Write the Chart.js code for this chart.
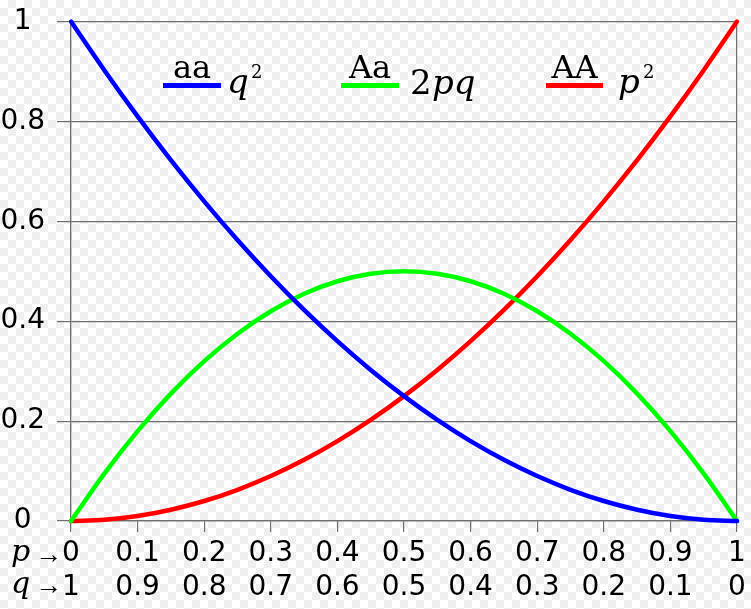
<!DOCTYPE html>
<html>
  <head>
    <meta charset="UTF-8" />
    <title>Hardy-Weinberg</title>
    <script src="https://cdn.jsdelivr.net/npm/chart.js"></script>
    <style>
      body {
        margin: 0;
        background: repeating-conic-gradient(#efefef 0 25%, #ffffff 0 50%) 0 0 / 16px 16px;
      }
      .wrap {
        width: 751px;
        height: 609px;
        position: relative;
      }
    </style>
  </head>
  <body>
    <div class="wrap"><canvas id="chart"></canvas></div>
    <script>
      // allele frequency p (x axis)
      const pValues = [0, 0.05, 0.1, 0.15, 0.2, 0.25, 0.3, 0.35, 0.4, 0.45, 0.5,
        0.55, 0.6, 0.65, 0.7, 0.75, 0.8, 0.85, 0.9, 0.95, 1];
      // genotype frequencies
      const aa = [1, 0.9025, 0.81, 0.7225, 0.64, 0.5625, 0.49, 0.4225, 0.36, 0.3025, 0.25,
        0.2025, 0.16, 0.1225, 0.09, 0.0625, 0.04, 0.0225, 0.01, 0.0025, 0];
      const Aa = [0, 0.095, 0.18, 0.255, 0.32, 0.375, 0.42, 0.455, 0.48, 0.495, 0.5,
        0.495, 0.48, 0.455, 0.42, 0.375, 0.32, 0.255, 0.18, 0.095, 0];
      const AA = [0, 0.0025, 0.01, 0.0225, 0.04, 0.0625, 0.09, 0.1225, 0.16, 0.2025, 0.25,
        0.3025, 0.36, 0.4225, 0.49, 0.5625, 0.64, 0.7225, 0.81, 0.9025, 1];

      const pLabels = ["0", "0.1", "0.2", "0.3", "0.4", "0.5", "0.6", "0.7", "0.8", "0.9", "1"];
      const qLabels = ["1", "0.9", "0.8", "0.7", "0.6", "0.5", "0.4", "0.3", "0.2", "0.1", "0"];
      const yLabels = ["0", "0.2", "0.4", "0.6", "0.8", "1"];

      const SERIF = "'DejaVu Serif', serif";
      const SANS = "'DejaVu Sans', sans-serif";
      const gridCol = "#6e6e6e";

      function pts(ys) {
        return pValues.map((p, i) => ({ x: p, y: ys[i] }));
      }

      function line(label, ys, color) {
        return {
          label: label,
          data: pts(ys),
          borderColor: color,
          borderWidth: 4.5,
          borderCapStyle: "round",
          borderJoinStyle: "round",
          pointRadius: 0,
          cubicInterpolationMode: "monotone",
          fill: false,
          clip: 4,
        };
      }

      // legend + p/q arrows, drawn on top
      const extras = {
        id: "extras",
        afterDraw(chart) {
          const c = chart.ctx;
          c.save();
          c.fillStyle = "#000";
          c.textBaseline = "alphabetic";

          const items = [
            { x0: 163, x1: 221, name: "aa", color: "#0000ff" },
            { x0: 341, x1: 399, name: "Aa", color: "#00ff00" },
            { x0: 546, x1: 603, name: "AA", color: "#ff0000" },
          ];
          items.forEach((it) => {
            c.strokeStyle = it.color;
            c.lineWidth = 5;
            c.beginPath();
            c.moveTo(it.x0, 85.5);
            c.lineTo(it.x1, 85.5);
            c.stroke();
            c.font = "32px " + SERIF;
            c.textAlign = "center";
            c.fillText(it.name, (it.x0 + it.x1) / 2, 78);
          });

          c.textAlign = "left";
          // q^2
          c.font = "italic 34px " + SERIF;
          c.fillText("q", 227, 93);
          c.font = "18px " + SERIF;
          c.fillText("2", 251, 78);
          // 2pq
          c.font = "34px " + SERIF;
          c.fillText("2", 410, 94);
          c.font = "italic 34px " + SERIF;
          c.fillText("pq", 432, 94);
          // p^2
          c.font = "italic 34px " + SERIF;
          c.fillText("p", 618, 93);
          c.font = "18px " + SERIF;
          c.fillText("2", 643, 78);

          // p -> / q -> in front of the x labels
          c.font = "italic 30px " + SERIF;
          c.fillText("p", 11, 561);
          c.fillText("q", 11, 593);
          c.font = "27px 'Liberation Serif', serif";
          c.fillText("\u2192", 35, 563);
          c.fillText("\u2192", 35, 594);
          c.restore();
        },
      };

      new Chart(document.getElementById("chart"), {
        type: "line",
        data: {
          datasets: [
            line("aa  q²", aa, "#0000ff"),
            line("Aa  2pq", Aa, "#00ff00"),
            line("AA  p²", AA, "#ff0000"),
          ],
        },
        options: {
          responsive: true,
          maintainAspectRatio: false,
          animation: false,
          layout: { padding: { top: 0, right: 14, left: 0, bottom: 0 } },
          plugins: {
            legend: { display: false },
            tooltip: { enabled: false },
          },
          scales: {
            x: {
              type: "linear",
              min: 0,
              max: 1,
              afterFit(scale) {
                scale.height = 88;
              },
              border: { display: true, color: gridCol, width: 1.2 },
              grid: {
                color: (ctx) =>
                  ctx.tick && (ctx.tick.value === 0 || ctx.tick.value === 1)
                    ? gridCol
                    : "rgba(0,0,0,0)",
                tickColor: gridCol,
                tickLength: 11,
                lineWidth: 1.2,
              },
              ticks: {
                stepSize: 0.1,
                autoSkip: false,
                maxRotation: 0,
                padding: 5,
                color: "#000",
                font: { family: SANS, size: 28, lineHeight: 1.2 },
                callback: (v, i) => [pLabels[i], qLabels[i]],
              },
            },
            y: {
              min: 0,
              max: 1,
              afterFit(scale) {
                scale.width = 71;
              },
              border: { display: true, color: gridCol, width: 1.2 },
              grid: {
                color: gridCol,
                tickColor: gridCol,
                tickLength: 14,
                lineWidth: 1.2,
              },
              ticks: {
                stepSize: 0.2,
                padding: 12,
                crossAlign: "center",
                color: "#000",
                font: { family: SANS, size: 28, lineHeight: 0.68 },
                callback: (v, i) => yLabels[i],
              },
            },
          },
        },
        plugins: [extras],
      });
    </script>
  </body>
</html>
